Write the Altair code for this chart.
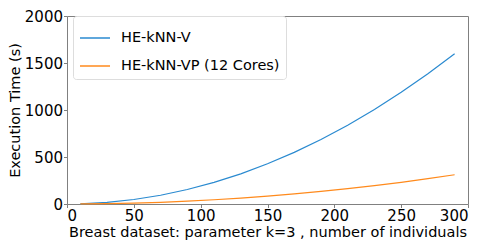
import altair as alt
import pandas as pd

x_values = [10, 30, 50, 70, 90, 110, 130, 150, 170, 190, 210, 230, 250, 270, 290]
he_knn_v = [2, 17, 48, 93, 154, 230, 321, 428, 549, 686, 838, 1005, 1188, 1385, 1598]
he_knn_vp = [0.4, 3.3, 9, 18, 30, 45, 63, 83, 107, 134, 163, 196, 231, 270, 311]
series_names = ["HE-kNN-V", "HE-kNN-VP (12 Cores)"]
series_colors = ["#2a8ad0", "#ff8a1c"]

rows = []
for name, vals in zip(series_names, [he_knn_v, he_knn_vp]):
    for x, y in zip(x_values, vals):
        rows.append({"n": x, "t": y, "series": name})
df = pd.DataFrame(rows)

font = "DejaVu Sans"
fs = 15

chart = alt.Chart(df).mark_line(strokeWidth=1.2).encode(
    x=alt.X("n:Q", scale=alt.Scale(domain=[0, 300], nice=False),
            axis=alt.Axis(values=[0, 50, 100, 150, 200, 250, 300], format="d",
                          title="Breast dataset: parameter k=3 , number of individuals")),
    y=alt.Y("t:Q", scale=alt.Scale(domain=[0, 2000], nice=False),
            axis=alt.Axis(values=[0, 500, 1000, 1500, 2000], format="d",
                          title="Execution Time (s)")),
    color=alt.Color("series:N",
                    scale=alt.Scale(domain=series_names, range=series_colors),
                    legend=alt.Legend(title=None, orient="none", legendX=6, legendY=0,
                                      symbolType="stroke", symbolSize=900,
                                      symbolStrokeWidth=1.5, labelFontSize=14.5,
                                      labelFont=font, labelColor="#000",
                                      fillColor="white", strokeColor="#dddddd",
                                      cornerRadius=3, padding=6, rowPadding=5,
                                      labelOffset=10)),
).properties(
    width=401, height=188,
    autosize=alt.AutoSizeParams(type="none"),
    padding={"left": 59, "top": 8, "right": 15, "bottom": 40},
).configure_view(
    stroke="#808080", strokeWidth=1
).configure_axis(
    grid=False, domain=False, tickColor="#808080", tickSize=3.5,
    labelFont=font, labelFontSize=fs, labelColor="#000",
    titleFont=font, titleFontSize=14.5, titleFontWeight="normal", titleColor="#000",
    labelPadding=1,
).configure_axisX(titlePadding=2).configure_axisY(titlePadding=2)

chart.save("out.html", embed_options={"renderer": "svg", "actions": False})
